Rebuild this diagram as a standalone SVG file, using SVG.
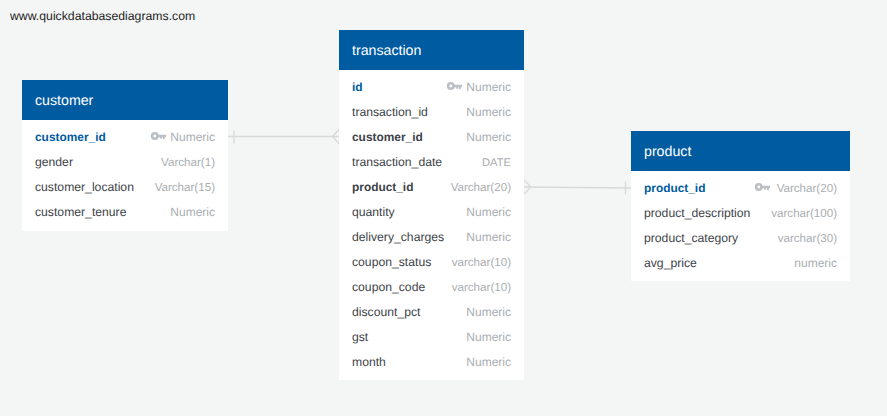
<svg xmlns="http://www.w3.org/2000/svg" width="887" height="416" viewBox="0 0 887 416">
<defs>
<g id="key"><circle cx="3.800" cy="4" r="2.700" fill="none" stroke="#bcc0c4" stroke-width="2.600"/><path d="M6.500 2.700h8.500v2.600h-1.300v1.900h-1.800v-1.900h-1v1.400h-1.800v-1.400h-2.600z" fill="#bcc0c4"/></g>
</defs>
<style>
text{font-family:"Liberation Sans",Arial,sans-serif;font-size:12px;text-rendering:geometricPrecision}
.h{fill:#005ba1}
.b{fill:#fff}
.t{fill:#fff;font-size:14.200px}
.n{fill:#3d4248;font-size:12.200px}
.k{fill:#3d4248;font-weight:700;font-size:11.900px}
.p{fill:#005ba1;font-weight:700;font-size:11.900px}
.y{fill:#a9adb1;text-anchor:end}
.v{font-size:11.600px}
.d{font-size:11.200px}
.c{fill:none;stroke:#d6d9d8;stroke-width:1.300}
</style>
<rect width="887" height="416" fill="#f4f6f6"/>
<text x="10" y="20" style="font-size:12.250px;fill:#1c1c1c">www.quickdatabasediagrams.com</text>
<g id="connectors">
<path class="c" d="M228 136.500H339M234 130.500v13M339 129.500L332.500 136.500L339 143.500"/>
<path class="c" d="M524 187L631 188M625.500 181.500v13M524 180L531 187L524 194"/>
</g>
<g id="customer">
<rect class="b" x="22" y="120" width="206" height="111"/>
<rect class="h" x="22" y="80" width="206" height="40"/>
<text class="t" x="35" y="105">customer</text>
<text class="p" x="35" y="141">customer_id</text><use href="#key" x="151" y="132"/><text class="y" x="215" y="141">Numeric</text>
<text class="n" x="35" y="166">gender</text><text class="y v" x="215" y="166">Varchar(1)</text>
<text class="n" x="35" y="191">customer_location</text><text class="y v" x="215" y="191">Varchar(15)</text>
<text class="n" x="35" y="216">customer_tenure</text><text class="y" x="215" y="216">Numeric</text>
</g>
<g id="transaction">
<rect class="b" x="339" y="70" width="185" height="310"/>
<rect class="h" x="339" y="30" width="185" height="40"/>
<text class="t" x="352" y="55">transaction</text>
<text class="p" x="352" y="91">id</text><use href="#key" x="447" y="82"/><text class="y" x="511" y="91">Numeric</text>
<text class="n" x="352" y="116">transaction_id</text><text class="y" x="511" y="116">Numeric</text>
<text class="k" x="352" y="141">customer_id</text><text class="y" x="511" y="141">Numeric</text>
<text class="n" x="352" y="166">transaction_date</text><text class="y d" x="511" y="166">DATE</text>
<text class="k" x="352" y="191">product_id</text><text class="y v" x="511" y="191">Varchar(20)</text>
<text class="n" x="352" y="216">quantity</text><text class="y" x="511" y="216">Numeric</text>
<text class="n" x="352" y="241">delivery_charges</text><text class="y" x="511" y="241">Numeric</text>
<text class="n" x="352" y="266">coupon_status</text><text class="y v" x="511" y="266">varchar(10)</text>
<text class="n" x="352" y="291">coupon_code</text><text class="y v" x="511" y="291">varchar(10)</text>
<text class="n" x="352" y="316">discount_pct</text><text class="y" x="511" y="316">Numeric</text>
<text class="n" x="352" y="341">gst</text><text class="y" x="511" y="341">Numeric</text>
<text class="n" x="352" y="366">month</text><text class="y" x="511" y="366">Numeric</text>
</g>
<g id="product">
<rect class="b" x="631" y="171" width="219" height="110"/>
<rect class="h" x="631" y="131" width="219" height="40"/>
<text class="t" x="644" y="156">product</text>
<text class="p" x="644" y="192">product_id</text><use href="#key" x="755" y="183"/><text class="y v" x="837" y="192">Varchar(20)</text>
<text class="n" x="644" y="217">product_description</text><text class="y v" x="837" y="217">varchar(100)</text>
<text class="n" x="644" y="242">product_category</text><text class="y v" x="837" y="242">varchar(30)</text>
<text class="n" x="644" y="267">avg_price</text><text class="y" x="837" y="267">numeric</text>
</g>
</svg>
